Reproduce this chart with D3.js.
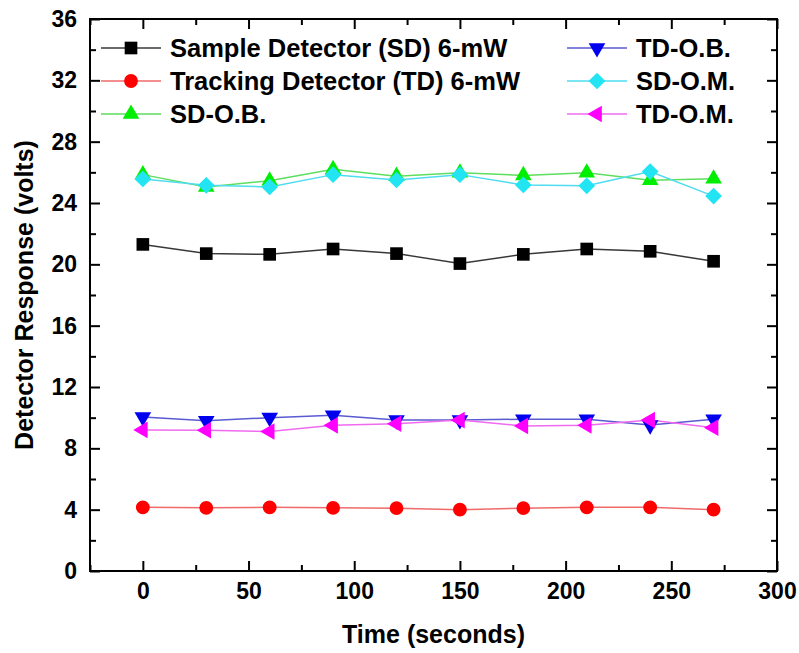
<!DOCTYPE html>
<html>
<head>
<meta charset="utf-8">
<script src="https://cdn.jsdelivr.net/npm/d3@7"></script>
<style>
  body { margin: 0; background: #fff; }
  svg { font-family: "Liberation Sans", Arial, sans-serif; font-weight: bold; }
</style>
</head>
<body>
<svg id="chart" width="799" height="653"></svg>
<script>
const times = [0, 30, 60, 90, 120, 150, 180, 210, 240, 270]

const sdValues   = [21.3, 20.7, 20.65, 21.0, 20.7, 20.05, 20.65, 21.0, 20.85, 20.2]
const tdValues   = [4.15, 4.12, 4.15, 4.12, 4.1, 4.0, 4.1, 4.15, 4.15, 4.0]
const sdObValues = [25.85, 25.05, 25.45, 26.2, 25.75, 25.97, 25.8, 25.97, 25.48, 25.58]
const tdObValues = [10.04, 9.8, 10.0, 10.15, 9.84, 9.85, 9.9, 9.9, 9.52, 9.9]
const sdOmValues = [25.57, 25.15, 25.05, 25.85, 25.5, 25.85, 25.18, 25.12, 26.05, 24.45]
const tdOmValues = [9.2, 9.18, 9.1, 9.5, 9.6, 9.84, 9.46, 9.5, 9.84, 9.35]

const xMajor = [0, 50, 100, 150, 200, 250, 300]
const xMinor = [-25, 25, 75, 125, 175, 225, 275]
const yMajor = [0, 4, 8, 12, 16, 20, 24, 28, 32, 36]
const yMinor = [2, 6, 10, 14, 18, 22, 26, 30, 34]

const series = [
  {name: "Sample Detector (SD) 6-mW", values: sdValues, fill: "#000000", line: "#383838", shape: "square"},
  {name: "Tracking Detector (TD) 6-mW", values: tdValues, fill: "#ff0000", line: "#f06a6a", shape: "circle"},
  {name: "SD-O.B.", values: sdObValues, fill: "#00ee00", line: "#5ede5e", shape: "up"},
  {name: "TD-O.B.", values: tdObValues, fill: "#0000ee", line: "#5a5ad2", shape: "down"},
  {name: "SD-O.M.", values: sdOmValues, fill: "#22e4f2", line: "#4edcf0", shape: "diamond"},
  {name: "TD-O.M.", values: tdOmValues, fill: "#ff00ff", line: "#f06af0", shape: "left"}
]

const plotL = 90, plotR = 777, plotT = 19, plotB = 571

const x = d3.scaleLinear().domain([-25, 300]).range([plotL, plotR])
const y = d3.scaleLinear().domain([0, 36]).range([plotB, plotT])

const svg = d3.select('#chart')

// symbol helper
function symbolPath(shape) {
  if (shape === 'square') return {d: d3.symbol(d3.symbolSquare, 160)(), rot: 0}
  if (shape === 'circle') return {d: d3.symbol(d3.symbolCircle, 150)(), rot: 0}
  if (shape === 'up') return {d: d3.symbol(d3.symbolTriangle, 120)(), rot: 0}
  if (shape === 'down') return {d: d3.symbol(d3.symbolTriangle, 120)(), rot: 180}
  if (shape === 'left') return {d: d3.symbol(d3.symbolTriangle, 120)(), rot: -90}
  if (shape === 'diamond') return {d: d3.symbol(d3.symbolSquare, 140)(), rot: 45}
}

// axes, ticks pointing in
const fontTicks = 23
function styleAxis(g) {
  g.select('.domain').remove()
  g.selectAll('.tick line').attr('stroke', '#000').attr('stroke-width', 2)
  g.selectAll('.tick text').attr('fill', '#000').style('font-size', fontTicks + 'px').style('font-weight', 'bold')
}

svg.append('g').attr('transform', `translate(0,${plotB})`)
  .call(d3.axisBottom(x).tickValues(xMajor).tickSize(-10).tickPadding(12).tickFormat(d3.format('d')))
  .call(styleAxis)
svg.append('g').attr('transform', `translate(0,${plotB})`)
  .call(d3.axisBottom(x).tickValues(xMinor).tickSize(-6).tickFormat(''))
  .call(styleAxis)
svg.append('g').attr('transform', `translate(0,${plotT})`)
  .call(d3.axisTop(x).tickValues(xMajor).tickSize(-10).tickFormat(''))
  .call(styleAxis)
svg.append('g').attr('transform', `translate(0,${plotT})`)
  .call(d3.axisTop(x).tickValues(xMinor).tickSize(-6).tickFormat(''))
  .call(styleAxis)

svg.append('g').attr('transform', `translate(${plotL},0)`)
  .call(d3.axisLeft(y).tickValues(yMajor).tickSize(-10).tickPadding(13).tickFormat(d3.format('d')))
  .call(styleAxis)
svg.append('g').attr('transform', `translate(${plotL},0)`)
  .call(d3.axisLeft(y).tickValues(yMinor).tickSize(-6).tickFormat(''))
  .call(styleAxis)
svg.append('g').attr('transform', `translate(${plotR},0)`)
  .call(d3.axisRight(y).tickValues(yMajor).tickSize(-10).tickFormat(''))
  .call(styleAxis)
svg.append('g').attr('transform', `translate(${plotR},0)`)
  .call(d3.axisRight(y).tickValues(yMinor).tickSize(-6).tickFormat(''))
  .call(styleAxis)

svg.append('rect')
  .attr('x', plotL).attr('y', plotT)
  .attr('width', plotR - plotL).attr('height', plotB - plotT)
  .attr('fill', 'none').attr('stroke', '#000').attr('stroke-width', 2)

// axis titles
svg.append('text')
  .attr('x', (plotL + plotR) / 2).attr('y', 643)
  .attr('text-anchor', 'middle')
  .style('font-size', '25px')
  .text('Time (seconds)')

svg.append('text')
  .attr('transform', `translate(33,${(plotT + plotB) / 2}) rotate(-90)`)
  .attr('text-anchor', 'middle')
  .style('font-size', '25px')
  .text('Detector Response (volts)')

// series lines + markers
const line = d3.line().x((d, i) => x(times[i])).y(d => y(d))

series.forEach(s => {
  svg.append('path')
    .attr('d', line(s.values))
    .attr('fill', 'none')
    .attr('stroke', s.line)
    .attr('stroke-width', 1.5)
})

series.forEach(s => {
  const sym = symbolPath(s.shape)
  svg.append('g').selectAll('path')
    .data(s.values)
    .join('path')
    .attr('d', sym.d)
    .attr('transform', (d, i) => `translate(${x(times[i])},${y(d)}) rotate(${sym.rot})`)
    .attr('fill', s.fill)
})

// legend
const legendCols = [{lineX: 101, markX: 131, textX: 170}, {lineX: 567, markX: 597, textX: 636}]
const legendRows = [48, 81, 114]

series.forEach((s, i) => {
  const col = legendCols[Math.floor(i / 3)]
  const rowY = legendRows[i % 3]
  const g = svg.append('g')
  g.append('line')
    .attr('x1', col.lineX).attr('x2', col.lineX + 60)
    .attr('y1', rowY).attr('y2', rowY)
    .attr('stroke', s.line).attr('stroke-width', 1.5)
  const sym = symbolPath(s.shape)
  g.append('path')
    .attr('d', sym.d)
    .attr('transform', `translate(${col.markX},${rowY}) rotate(${sym.rot})`)
    .attr('fill', s.fill)
  g.append('text')
    .attr('x', col.textX).attr('y', rowY)
    .attr('dy', '0.36em')
    .style('font-size', '25.5px')
    .text(s.name)
})
</script>
</body>
</html>
